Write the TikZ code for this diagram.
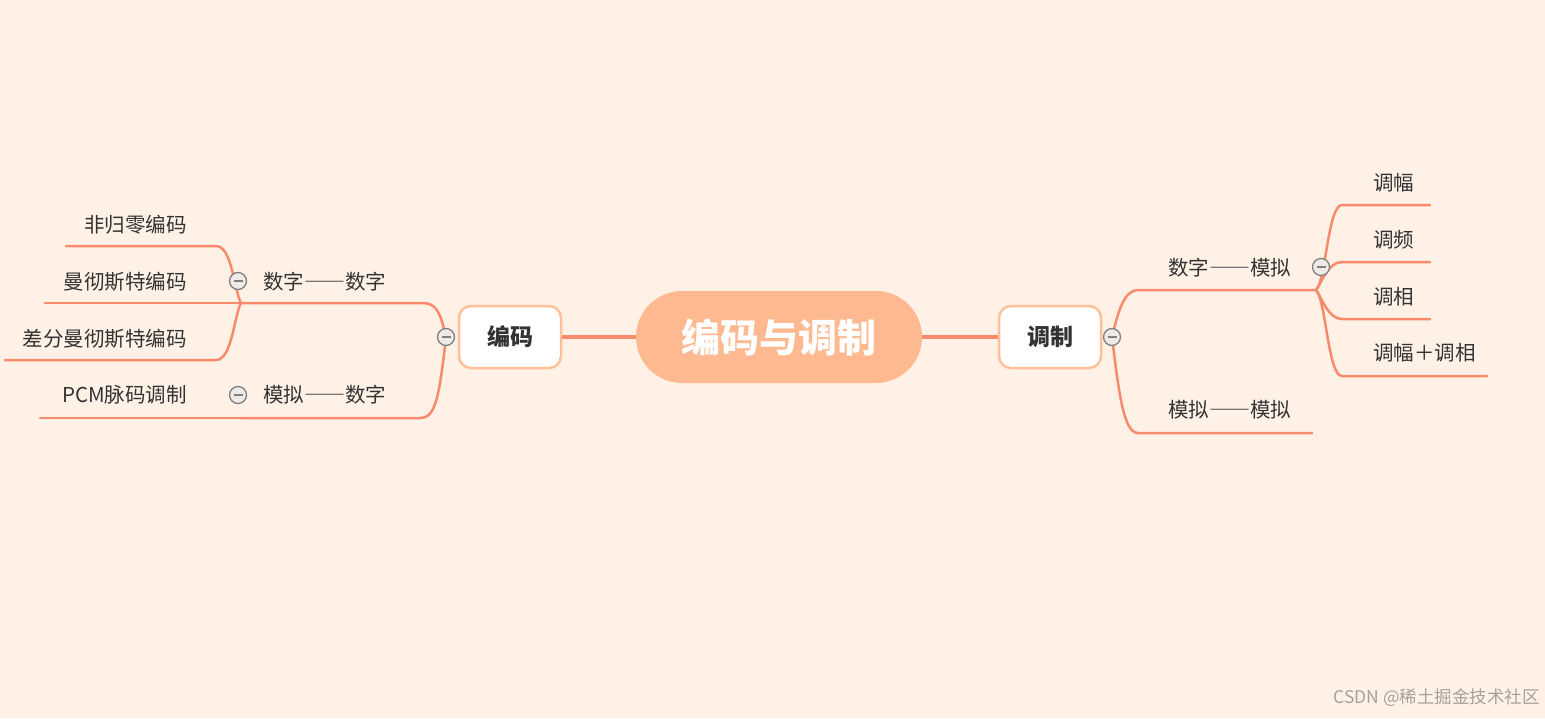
\documentclass[tikz,border=0pt]{standalone}
\usepackage{fontspec}
\setmainfont{Noto Sans CJK SC}
\usetikzlibrary{positioning}

\definecolor{bgpeach}{HTML}{FFF1E6}
\definecolor{branchline}{HTML}{F98A6C}
\definecolor{rootfill}{HTML}{FFB990}
\definecolor{topicborder}{HTML}{FFC09A}
\definecolor{foldgray}{HTML}{808080}
\definecolor{foldfill}{HTML}{EDEAE8}
\definecolor{darktext}{HTML}{333333}
\definecolor{marktext}{HTML}{A8A09A}

\newcommand\fwdash{{\addfontfeature{RawFeature=+fwid}——}}

\tikzset{
  root/.style={fill=rootfill, rounded corners=46pt, minimum width=286pt, minimum height=92pt,
    text=white, font=\fontsize{39}{44}\selectfont\bfseries, inner sep=0pt},
  topic/.style={draw=topicborder, line width=2.5pt, fill=white, rounded corners=12pt,
    minimum width=102pt, minimum height=62pt, text=darktext,
    font=\fontsize{23}{27}\selectfont\bfseries, inner sep=0pt},
  leaf/.style={text=darktext, font=\fontsize{20.5}{24}\selectfont, inner sep=0pt},
  fold/.style={circle, draw=foldgray, fill=foldfill, line width=1.3pt, minimum size=17pt, inner sep=0pt,
    path picture={\draw[foldgray, line width=1.3pt]
      ([xshift=-4.5pt]path picture bounding box.center) -- ([xshift=4.5pt]path picture bounding box.center);}},
  branch/.style={draw=branchline, line width=2.5pt, line cap=round},
  trunk/.style={draw=branchline, line width=4pt},
}

\begin{document}
\begin{tikzpicture}[x=1pt,y=-1pt]

\fill[bgpeach] (0,0) rectangle (1545,718);
\useasboundingbox (0,0) rectangle (1545,718);

% centre and main topics
\node[root] (root) at (779,337) {编码与调制};
\node[topic] (enc) at (510,337) {编码};
\node[topic] (mod) at (1050,337) {调制};
\draw[trunk] (root) -- (enc);
\draw[trunk] (root) -- (mod);

% left side: 编码
\coordinate (encfold) at (446,337);
\coordinate (ddj) at (241,303);
\coordinate (adj) at (241,418);

\node[leaf, anchor=west] (dd) at (263,282) {数字\fwdash 数字};
\node[leaf, anchor=west] (ad) at (263,395) {模拟\fwdash 数字};
\node[leaf, anchor=east] (nrz) at (187,225) {非归零编码};
\node[leaf, anchor=east] (man) at (187,282) {曼彻斯特编码};
\node[leaf, anchor=east] (dman) at (187,339) {差分曼彻斯特编码};
\node[leaf, anchor=east] (pcm) at (187,395) {PCM脉码调制};

\draw[branch] (encfold) .. controls (440,311) and (436,303) .. (422,303) -- (ddj);
\draw[branch] (encfold) .. controls (439,400) and (435,418) .. (420,418) -- (adj);
\draw[branch] (ddj) .. controls (234,290) and (232,246) .. (216,246) -- (66,246);
\draw[branch] (ddj) -- (45,303);
\draw[branch] (ddj) .. controls (234,316) and (232,360) .. (216,360) -- (5,360);
\draw[branch] (adj) -- (40,418);

% right side: 调制
\coordinate (modfold) at (1112,337);
\coordinate (daj) at (1316,290);

\node[leaf, anchor=west] (da) at (1168,268) {数字\fwdash 模拟};
\node[leaf, anchor=west] (aa) at (1168,410) {模拟\fwdash 模拟};
\node[leaf, anchor=west] (am) at (1373,183) {调幅};
\node[leaf, anchor=west] (fm) at (1373,240) {调频};
\node[leaf, anchor=west] (pm) at (1373,297) {调相};
\node[leaf, anchor=west] (apm) at (1373,353) {调幅{\addfontfeature{RawFeature=+fwid}+}调相};

\draw[branch] (modfold) .. controls (1118,312) and (1124,290) .. (1138,290) -- (daj);
\draw[branch] (modfold) .. controls (1119,395) and (1124,433) .. (1138,433) -- (1312,433);
\draw[branch] (daj) .. controls (1326,280) and (1328,205) .. (1342,205) -- (1430,205);
\draw[branch] (daj) .. controls (1322,282) and (1328,262) .. (1342,262) -- (1430,262);
\draw[branch] (daj) .. controls (1322,298) and (1328,319) .. (1342,319) -- (1430,319);
\draw[branch] (daj) .. controls (1326,300) and (1328,376) .. (1342,376) -- (1487,376);

% fold markers
\node[fold] (encmark) at (encfold) {};
\node[fold] (modmark) at (modfold) {};
\node[fold] (ddmark) at (238,281) {};
\node[fold] (admark) at (238,395) {};
\node[fold] (damark) at (1321,267) {};

% watermark
\node[text=marktext, font=\fontsize{17.5}{20}\selectfont, anchor=east, inner sep=0pt] (mark) at (1540,698) {CSDN @稀土掘金技术社区};

\end{tikzpicture}
\end{document}
